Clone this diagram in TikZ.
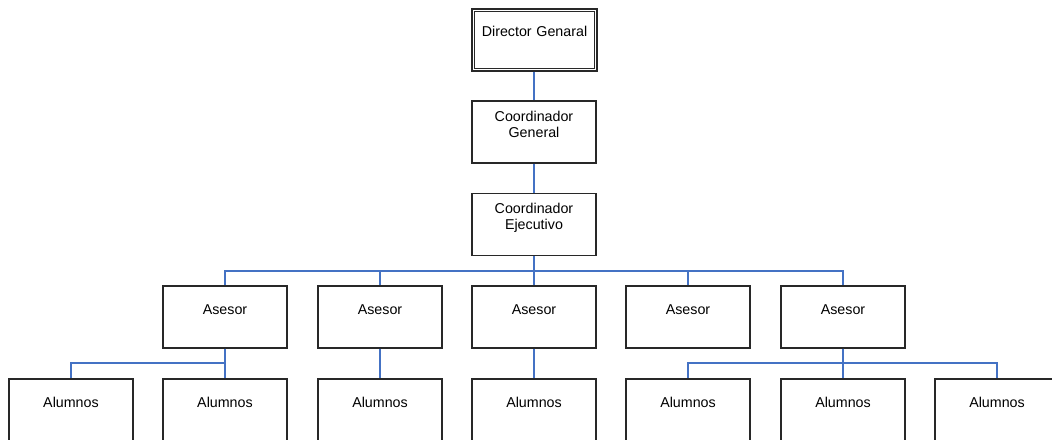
\documentclass[tikz,border=0pt]{standalone}
\usepackage{fontspec}
\setmainfont{Liberation Sans}
\definecolor{conncol}{RGB}{68,114,196}
\definecolor{boxcol}{RGB}{40,40,40}
\tikzset{
  box/.style={draw=boxcol, line width=0.8pt, inner xsep=0pt, inner ysep=0pt,
    text width=93pt, align=center, font=\fontsize{10.7}{12}\selectfont,
    text height=21pt, text depth=25.5pt},
  twoline/.style={text height=15pt, text depth=31.5pt},
  dbox/.style={box, line width=0.8pt, text width=93.75pt,
    text height=20.75pt, text depth=25.75pt},
  inner/.style={draw=boxcol, line width=0.8pt},
  conn/.style={draw=conncol, line width=0.9pt}
}
\begin{document}
\begin{tikzpicture}[x=0.75pt,y=-0.75pt]
\useasboundingbox (0,0) rectangle (1052,439);
% top levels
\node[dbox] (dir) at (534.5,40) {Director Genaral};
\draw[inner] ([shift={(3.3,3.3)}]dir.north west) rectangle ([shift={(-3.3,-3.3)}]dir.south east);
\node[box,twoline] (cg) at (534,132) {Coordinador\\General};
\node[box,twoline] (ce) at (534,224.5) {Coordinador\\Ejecutivo};
% asesores
\node[box] (as1) at (225,317) {Asesor};
\node[box] (as2) at (380,317) {Asesor};
\node[box] (as3) at (534,317) {Asesor};
\node[box] (as4) at (688,317) {Asesor};
\node[box] (as5) at (843,317) {Asesor};
% alumnos
\node[box] (al1) at (71,410) {Alumnos};
\node[box] (al2) at (225,410) {Alumnos};
\node[box] (al3) at (380,410) {Alumnos};
\node[box] (al4) at (534,410) {Alumnos};
\node[box] (al5) at (688,410) {Alumnos};
\node[box] (al6) at (843,410) {Alumnos};
\node[box] (al7) at (997,410) {Alumnos};
% bus coordinates
\coordinate (bus1) at (534,271);
\coordinate (bus2) at (225,363);
\coordinate (bus3) at (843,363);
% connectors
\draw[conn] (dir.south -| cg.north) -- (cg.north);
\draw[conn] (cg.south) -- (ce.north);
\foreach \a in {as1,as2,as3,as4,as5}
  \draw[conn] (ce.south) -- (bus1) -| (\a.north);
\foreach \a in {al1,al2}
  \draw[conn] (as1.south) -- (bus2) -| (\a.north);
\draw[conn] (as2.south) -- (al3.north);
\draw[conn] (as3.south) -- (al4.north);
\foreach \a in {al5,al6,al7}
  \draw[conn] (as5.south) -- (bus3) -| (\a.north);
\end{tikzpicture}
\end{document}
